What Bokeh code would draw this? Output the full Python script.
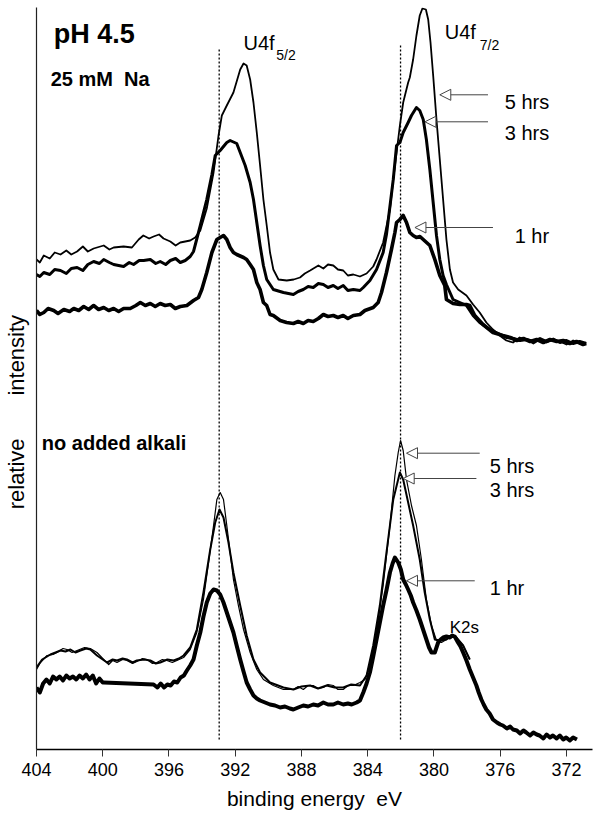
import math
from bokeh.plotting import figure
from bokeh.models import Range1d, FixedTicker, Label, Arrow, NormalHead
from bokeh.embed import file_html
from bokeh.resources import INLINE

FONT = "Liberation Sans"
NB = "\u00a0"

# ---------------- data (binding energy eV, relative intensity) ----------------
tick_ev = [404, 400, 396, 392, 388, 384, 380, 376, 372]
peak_ev = [392.97, 382.02]          # U4f5/2, U4f7/2 reference lines
peak_lo = [10, 10]
peak_hi = [702, 704]

# top group: 25 mM Na
t5_ev = [404.0, 403.8, 403.56, 403.2, 402.9, 402.55, 402.2, 401.9, 401.55, 401.2, 400.9, 400.55, 399.94, 399.6, 399.34, 398.74,
         398.24, 397.83, 397.55, 397.2, 396.93, 396.6, 396.33, 395.92, 395.6, 395.32, 394.72, 394.42, 394.11, 393.72, 393.31,
         393.01, 392.81, 392.51, 392.11, 391.70, 391.50, 391.31, 391.10, 390.90, 390.70, 390.50, 390.30, 390.10, 389.90,
         389.70, 389.39, 388.89, 388.47, 388.09, 387.8, 387.48, 386.98, 386.68, 386.4, 386.08, 385.8, 385.48, 385.2, 384.87, 384.47,
         384.07, 383.67, 383.47, 383.07, 382.66, 382.46, 382.26, 382.06, 381.86, 381.56, 381.46, 381.26, 381.06, 380.86,
         380.70, 380.49, 380.35, 380.21, 380.05, 379.85, 379.65, 379.45, 379.25, 379.04, 378.85, 378.54, 378.04, 377.64,
         377.24, 376.84, 376.44, 376.04, 375.63, 375.23, 374.83, 374.43, 374.0, 373.6, 373.2, 372.8, 372.4, 372.0, 371.6,
         371.2, 370.81]
t5_i = [490, 487, 494, 491, 497, 495, 499, 495, 498, 503, 498, 501, 504, 500, 502, 503,
        502, 510, 514, 511, 513, 515, 511, 508, 504, 507, 509, 512, 519, 541, 577,
        614, 634, 644, 657, 680, 686, 684, 670, 647, 617, 584, 550, 524, 497,
        480, 470, 469, 470, 472, 476, 479, 484, 481, 485, 484, 480, 479, 474, 475, 473,
        476, 483, 490, 507, 540, 570, 597, 624, 647, 667, 672, 690, 714, 734,
        741, 740, 730, 707, 674, 630, 590, 550, 510, 480, 467, 460, 454, 445,
        437, 427, 420, 414, 409, 407, 412, 410, 406, 410, 407, 411, 408, 405, 409,
        406, 406]

t3_ev = [404.0, 403.8, 403.56, 403.2, 402.9, 402.55, 402.2, 401.9, 401.55, 401.2, 400.9, 400.55, 400.2, 399.94, 399.6, 399.34,
         398.74, 398.4, 398.14, 397.8, 397.53, 397.13, 396.8, 396.53, 396.2, 395.92, 395.6, 395.32, 395.02, 394.72, 394.52,
         394.11, 393.72, 393.41, 393.21, 392.91, 392.51, 392.31, 391.91, 391.70, 391.40, 391.10, 390.90, 390.70, 390.50,
         390.30, 390.10, 389.70, 389.09, 388.49, 388.2, 387.89, 387.6, 387.29, 386.98, 386.68, 386.4, 386.08, 385.8, 385.48, 385.2,
         384.87, 384.47, 384.27, 383.87, 383.47, 383.07, 382.87, 382.46, 382.26, 382.06, 381.86, 381.56, 381.36, 381.06,
         380.86, 380.65, 380.46, 380.25, 380.05, 379.85, 379.65, 379.45, 379.25, 378.85, 378.44, 378.04, 377.64, 377.24,
         376.63, 376.24, 375.63, 375.2, 374.8, 374.4, 374.0, 373.6, 373.2, 372.8, 372.4, 372.0, 371.6, 371.2, 370.81]
t3_i = [475, 473, 477, 475, 480, 479, 476, 481, 482, 479, 485, 488, 486, 490, 487, 485,
        483, 487, 485, 489, 489, 490, 486, 488, 485, 489, 491, 487, 489, 493, 498,
        524, 550, 575, 594, 599, 607, 609, 606, 597, 584, 567, 550, 527, 504,
        484, 470, 460, 457, 455, 458, 460, 463, 462, 466, 465, 462, 464, 461, 464, 459,
        460, 459, 462, 469, 480, 497, 515, 570, 604, 607, 617, 627, 634, 642,
        639, 630, 610, 580, 547, 514, 490, 474, 465, 450, 447, 444, 434, 427,
        420, 417, 412, 411, 409, 410, 408, 411, 408, 410, 407, 409, 406, 408, 406]

t1_ev = [404.0, 403.8, 403.56, 403.3, 402.96, 402.7, 402.35, 402.0, 401.75, 401.45, 401.15, 400.85, 400.55, 400.25, 399.94,
         399.64, 399.34, 399.04, 398.74, 398.34, 398.0, 397.73, 397.43, 397.13, 396.83, 396.53, 396.23, 395.92, 395.62, 395.32,
         394.92, 394.52, 394.22, 394.02, 393.72, 393.41, 393.11, 392.91, 392.71, 392.51, 392.31, 392.11, 391.91, 391.50,
         391.31, 391.10, 390.90, 390.70, 390.50, 390.30, 390.10, 389.90, 389.70, 389.29, 388.9, 388.49, 388.2, 387.89, 387.6, 387.29,
         386.98, 386.68, 386.4, 386.08, 385.8, 385.48, 385.2, 384.87, 384.47, 384.17, 383.67, 383.37, 383.17, 382.87, 382.57,
         382.36, 382.26, 382.06, 381.86, 381.66, 381.46, 381.26, 381.06, 380.85, 380.65, 380.45, 380.25, 379.95, 379.65,
         379.35, 379.25, 378.85, 378.44, 378.04, 377.84, 377.54, 377.04, 376.44, 375.84, 375.4, 375.0, 374.6, 374.2, 373.8,
         373.4, 373.0, 372.6, 372.2, 371.8, 371.4, 371.0, 370.81]
t1_i = [439, 435, 437, 441, 439, 436, 440, 438, 441, 439, 443, 440, 444, 440, 442,
        439, 441, 438, 441, 441, 444, 447, 444, 446, 443, 446, 444, 445, 441, 443,
        444, 449, 452, 460, 477, 497, 510, 512, 514, 510, 502, 497, 495, 492,
        490, 485, 480, 467, 460, 447, 444, 435, 434, 429, 427, 426, 428, 426, 429, 428,
        431, 435, 433, 434, 432, 434, 431, 434, 435, 439, 442, 447, 457, 477, 500,
        517, 527, 530, 534, 527, 517, 514, 512, 513, 510, 507, 504, 490, 474,
        464, 450, 446, 445, 445, 444, 434, 425, 417, 414, 412, 409, 411, 408, 410,
        407, 410, 408, 409, 406, 408, 405, 406]

# bottom group: no added alkali
b5_ev = [404.0, 403.76, 403.36, 403.0, 402.76, 402.4, 402.16, 401.85, 401.55, 401.1, 400.75, 400.35, 399.94, 399.64, 399.4,
         399.14, 398.8, 398.54, 398.2, 397.94, 397.6, 397.33, 397.0, 396.73, 396.4, 396.13, 395.8, 395.52, 395.12, 394.72,
         394.32, 393.92, 393.61, 393.31, 393.11, 392.91, 392.71, 392.51, 392.31, 392.11, 391.81, 391.50, 391.10, 390.70,
         390.30, 389.70, 389.09, 388.49, 388.2, 387.89, 387.6, 387.29, 387.0, 386.68, 386.4, 386.08, 385.8, 385.48, 385.2, 384.87,
         384.47, 384.17, 383.87, 383.47, 383.07, 382.66, 382.36, 382.16, 382.02, 381.86, 381.66, 381.36, 381.06, 380.76,
         380.46, 380.15, 379.85, 379.55, 379.25, 378.95, 378.65, 378.24, 377.84]
b5_i = [80, 87, 94, 95, 97, 101, 100, 97, 99, 102, 101, 97, 90, 85, 89,
        87, 90, 89, 86, 88, 91, 90, 86, 87, 90, 89, 87, 89, 92, 100,
        117, 150, 187, 224, 250, 257, 250, 224, 197, 170, 144, 120, 97, 80,
        70, 64, 60, 60, 63, 60, 64, 64, 61, 62, 65, 64, 60, 60, 64, 64,
        67, 70, 84, 117, 164, 224, 274, 297, 309, 299, 270, 244, 224, 190,
        150, 124, 109, 107, 110, 114, 112, 104, 90]

b3_ev = [404.0, 403.66, 403.16, 402.85, 402.55, 402.25, 401.95, 401.65, 401.35, 401.0, 400.75, 400.35, 399.74, 399.4, 399.14,
         398.8, 398.54, 398.2, 397.94, 397.5, 397.13, 396.8, 396.53, 396.1, 395.72, 395.4, 395.12, 394.72, 394.32, 393.92,
         393.51, 393.21, 392.95, 392.71, 392.41, 392.11, 391.70, 391.31, 390.90, 390.50, 389.90, 389.09, 388.49, 388.0,
         387.48, 387.0, 386.48, 386.0, 385.48, 385.0, 384.47, 384.07, 383.67, 383.27, 382.87, 382.46, 382.06, 381.86,
         381.56, 381.26, 380.86, 380.56, 380.25, 379.95, 379.65, 379.25, 378.95, 378.65, 378.24, 377.84]
b3_i = [82, 90, 95, 97, 99, 98, 100, 97, 99, 101, 100, 94, 87, 90, 89,
        91, 90, 87, 89, 90, 89, 86, 87, 90, 89, 91, 94, 102, 120, 157,
        200, 227, 240, 232, 207, 177, 144, 114, 90, 77, 67, 62, 60, 63,
        64, 61, 64, 62, 62, 65, 64, 74, 104, 144, 197, 250, 277, 270,
        247, 224, 190, 157, 130, 110, 109, 110, 114, 112, 104, 90]

b1_ev = [404.0, 403.8, 403.6, 403.4, 403.2, 403.0, 402.8, 402.6, 402.4, 402.2, 402.0, 401.8, 401.6, 401.4, 401.2, 401.0,
         400.8, 400.6, 400.4, 400.2, 400.0, 399.94, 396.93, 396.7, 396.5, 396.3, 396.1, 395.9, 395.7, 395.5, 395.3, 395.1,
         394.92, 394.72, 394.52, 394.32, 394.11, 393.92, 393.72, 393.51, 393.31, 393.11, 392.91, 392.71, 392.51, 392.31,
         392.11, 391.90, 391.70, 391.50, 391.31, 391.10, 390.90, 390.70, 390.50, 390.2, 389.90, 389.6, 389.29, 389.0, 388.7,
         388.49, 388.2, 387.89, 387.6, 387.29, 387.0, 386.68, 386.4, 386.08, 385.8, 385.48, 385.2, 384.97, 384.67, 384.47,
         384.27, 384.07, 383.87, 383.67, 383.47, 383.27, 383.07, 382.86, 382.66, 382.50, 382.36, 382.16, 382.0, 381.86,
         381.70, 381.56, 381.40, 381.26, 381.06, 380.86, 380.66, 380.46, 380.30, 380.15, 379.95, 379.75, 379.6, 379.45,
         379.25, 379.04, 378.9, 378.75, 378.55, 378.4, 378.24, 378.04, 377.84, 377.64, 377.44, 377.3, 377.14, 377.0, 376.84,
         376.64, 376.44, 376.2, 376.0, 375.84, 375.6, 375.4, 375.23, 375.0, 374.8, 374.6, 374.43, 374.2, 374.0, 373.8, 373.63,
         373.4, 373.2, 373.0, 372.82, 372.6, 372.4, 372.2, 372.02, 371.8, 371.6, 371.37]
b1_i = [62, 57, 66, 70, 66, 73, 70, 73, 69, 74, 71, 73, 70, 74, 71, 75,
        70, 74, 66, 71, 67, 67, 65, 62, 66, 62, 65, 64, 68, 67, 72, 74,
        79, 84, 90, 104, 117, 133, 147, 156, 160, 159, 155, 147, 137, 127,
        117, 103, 90, 78, 67, 60, 54, 51, 49, 47, 45, 44, 42, 43, 41,
        40, 42, 44, 43, 45, 44, 47, 45, 45, 47, 45, 46, 45, 47, 49,
        57, 66, 77, 93, 110, 127, 144, 160, 177, 186, 192, 187, 180, 170,
        165, 160, 154, 147, 139, 130, 120, 110, 102, 97, 97, 107, 110, 112,
        113, 112, 114, 113, 107, 103, 97, 89, 80, 72, 64, 57, 50, 45, 40,
        36, 30, 27, 25, 24, 21, 23, 20, 19, 16, 19, 17, 14, 17, 15, 14,
        11, 15, 12, 14, 11, 14, 10, 12, 9, 12, 10]

# annotation arrows: (start ev, end ev, intensity)
arr_start = [376.74, 376.74, 376.44, 377.24, 377.44, 377.54]
arr_end = [379.65, 380.55, 381.15, 381.66, 381.86, 381.66]
arr_i = [654.7, 627.7, 522, 296.3, 271, 168.7]
arr_text = ["5 hrs", "3 hrs", "1 hr", "5 hrs", "3 hrs", "1 hr"]
arr_text_ev = [375.73, 375.73, 375.13, 376.63, 376.63, 376.63]
arr_text_i = [648, 617, 514, 284, 260, 162]

# ---------------- figure ----------------
p = figure(width=594, height=814, output_backend="svg", toolbar_location=None,
           x_range=Range1d(404, 370.43), y_range=Range1d(0, 742),
           min_border_left=35, min_border_right=2, min_border_top=7, min_border_bottom=65)
p.background_fill_color = "white"
p.border_fill_color = "white"
p.outline_line_color = None
p.xgrid.visible = False
p.ygrid.visible = False

xa = p.xaxis[0]
xa.ticker = FixedTicker(ticks=tick_ev)
xa.minor_tick_line_color = None
xa.major_tick_in = 0
xa.major_tick_out = 7
xa.major_tick_line_width = 1
xa.axis_line_width = 1.4
xa.axis_line_color = "black"
xa.major_tick_line_color = "#333333"
xa.major_label_text_font = FONT
xa.major_label_text_font_size = "18px"
xa.major_label_text_color = "black"
xa.major_label_standoff = 6
xa.axis_label = "binding energy" + NB + NB + "eV"
xa.axis_label_text_font = FONT
xa.axis_label_text_font_size = "21px"
xa.axis_label_text_font_style = "normal"
xa.axis_label_text_color = "black"
xa.axis_label_standoff = 8

ya = p.yaxis[0]
ya.ticker = FixedTicker(ticks=[])
ya.minor_tick_line_color = None
ya.major_tick_line_color = None
ya.major_tick_in = 0
ya.major_tick_out = 0
ya.major_label_standoff = 0
ya.major_label_text_font_size = "1px"
ya.axis_line_width = 1.2
ya.axis_line_color = "#222222"
ya.axis_label = "relative" + NB * 7 + "intensity" + NB * 11
ya.axis_label_text_font = FONT
ya.axis_label_text_font_size = "22px"
ya.axis_label_text_font_style = "normal"
ya.axis_label_text_color = "black"
ya.axis_label_standoff = 8

# reference lines
p.segment(x0=peak_ev, y0=peak_lo, x1=peak_ev, y1=peak_hi, line_color="black",
          line_width=1.3, line_dash="2 2")

# spectra
p.line(t5_ev, t5_i, line_color="black", line_width=1.8, line_join="round")
p.line(t3_ev, t3_i, line_color="black", line_width=3.0, line_join="round")
p.line(t1_ev, t1_i, line_color="black", line_width=3.6, line_join="round")
p.line(b5_ev, b5_i, line_color="black", line_width=1.2, line_join="round")
p.line(b3_ev, b3_i, line_color="black", line_width=2.0, line_join="round")
p.line(b1_ev, b1_i, line_color="black", line_width=4.0, line_join="round")

# arrows and labels
for xs, xe, yy, txt, tx, ty in zip(arr_start, arr_end, arr_i, arr_text, arr_text_ev, arr_text_i):
    p.add_layout(Arrow(x_start=xs, y_start=yy, x_end=xe, y_end=yy,
                       line_color="#444444", line_width=1,
                       end=NormalHead(size=11, fill_color="white", line_color="#444444", line_width=1)))
    p.add_layout(Label(x=tx, y=ty, text=txt, text_font=FONT, text_font_size="20px",
                       text_baseline="alphabetic", text_color="black"))

def lab(x, y, text, size, bold=False):
    p.add_layout(Label(x=x, y=y, text=text, text_font=FONT, text_font_size=size,
                       text_font_style="bold" if bold else "normal", text_baseline="alphabetic",
                       text_align="left", text_color="black"))

lab(402.96, 716, "pH 4.5", "27px", bold=True)
lab(403.14, 671, "25 mM" + NB + NB + "Na", "20px", bold=True)
lab(403.68, 307, "no added alkali", "20px", bold=True)
lab(391.5, 707, "U4f", "20px")
lab(389.52, 695, "5/2", "14px")
lab(379.35, 718, "U4f", "20px")
lab(377.24, 705, "7/2", "14px")
lab(379.05, 122, "K2s", "17px")

open("out.html", "w").write(file_html(p, INLINE))
